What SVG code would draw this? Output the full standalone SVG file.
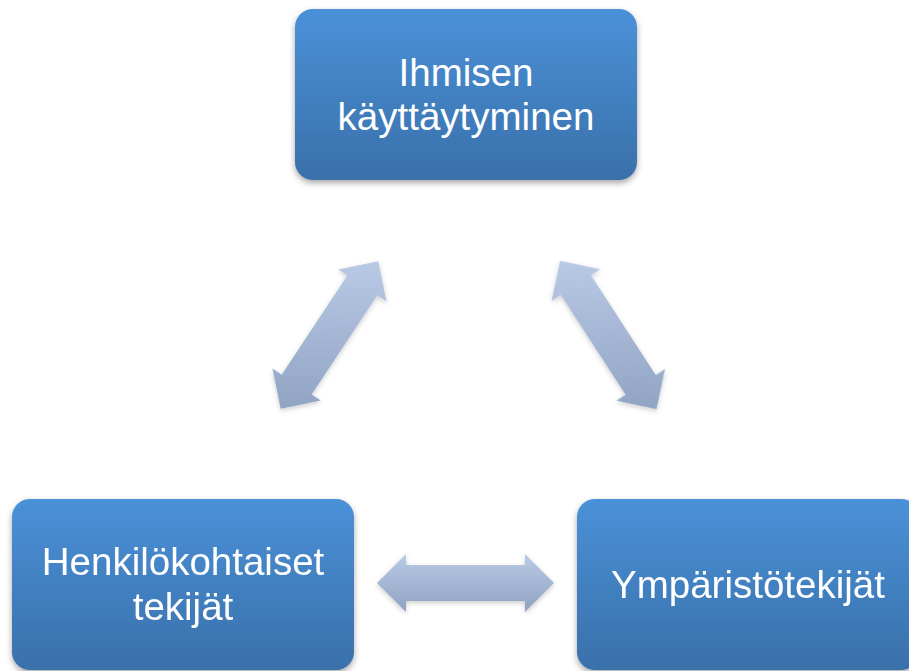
<svg xmlns="http://www.w3.org/2000/svg" width="909" height="671" viewBox="0 0 909 671">
<defs>
<linearGradient id="boxGrad" x1="0" y1="0" x2="0" y2="1">
<stop offset="0" stop-color="#4a91d8"/>
<stop offset="1" stop-color="#3a70aa"/>
</linearGradient>
<linearGradient id="arrH" x1="0" y1="-29" x2="0" y2="29" gradientUnits="userSpaceOnUse">
<stop offset="0" stop-color="#bacbe6"/>
<stop offset="1" stop-color="#8fa2c2"/>
</linearGradient>
<linearGradient id="arrL" x1="67" y1="-44" x2="-67" y2="44" gradientUnits="userSpaceOnUse">
<stop offset="0" stop-color="#bacbe6"/>
<stop offset="1" stop-color="#8fa2c2"/>
</linearGradient>
<linearGradient id="arrR" x1="-67" y1="-44" x2="67" y2="44" gradientUnits="userSpaceOnUse">
<stop offset="0" stop-color="#bacbe6"/>
<stop offset="1" stop-color="#8fa2c2"/>
</linearGradient>
<filter id="shadow" x="-10%" y="-10%" width="120%" height="130%">
<feDropShadow dx="0" dy="3" stdDeviation="3" flood-color="#000" flood-opacity="0.35"/>
</filter>
<filter id="ashadow" x="-20%" y="-20%" width="140%" height="140%">
<feDropShadow dx="0" dy="2" stdDeviation="2.5" flood-color="#000" flood-opacity="0.2"/>
</filter>
<path id="dblArrow" d="M-88.5,0 L-59.5,-29 L-59.5,-18 L59.5,-18 L59.5,-29 L88.5,0 L59.5,29 L59.5,18 L-59.5,18 L-59.5,29 Z"/>
</defs>
<style>
.box{fill:url(#boxGrad);filter:url(#shadow);}
.lbl{font-family:"Liberation Sans",Arial,sans-serif;font-size:38.5px;fill:#ffffff;text-anchor:middle;}
</style>
<g id="connectors" filter="url(#ashadow)">
<use href="#dblArrow" transform="translate(329.5,335) rotate(-56.5)" fill="url(#arrL)"/>
<use href="#dblArrow" transform="translate(608.3,335) rotate(57)" fill="url(#arrR)"/>
<use href="#dblArrow" transform="translate(465.5,583)" fill="url(#arrH)"/>
</g>
<g id="node-behavior">
<rect class="box" x="295" y="9" width="342" height="171" rx="18"/>
<text class="lbl" x="466" y="86">Ihmisen</text>
<text class="lbl" x="466" y="130">käyttäytyminen</text>
</g>
<g id="node-personal">
<rect class="box" x="12" y="499" width="342" height="171" rx="18"/>
<text class="lbl" x="183" y="575">Henkilökohtaiset</text>
<text class="lbl" x="183" y="620">tekijät</text>
</g>
<g id="node-environment">
<rect class="box" x="577" y="499" width="342" height="171" rx="18"/>
<text class="lbl" x="748" y="598">Ympäristötekijät</text>
</g>
</svg>
